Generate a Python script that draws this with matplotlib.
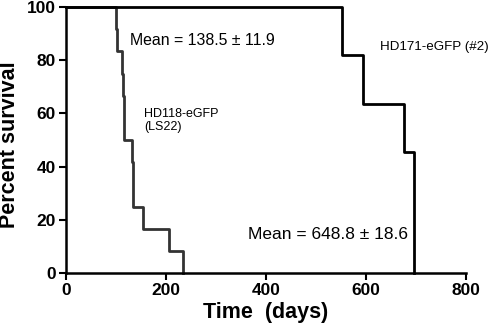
import numpy as np
import matplotlib
matplotlib.use("Agg")
import matplotlib.pyplot as plt

plt.rcParams['font.family'] = ['Liberation Sans', 'DejaVu Sans']

# HD118-eGFP (LS22): days of death and number of deaths, n = 12
hd118_days = [100, 103, 112, 115, 117, 132, 134, 155, 207, 235]
hd118_deaths = [1, 1, 1, 1, 2, 1, 2, 1, 1, 1]

# HD171-eGFP (#2): n = 11
hd171_days = [552, 595, 677, 697]
hd171_deaths = [2, 2, 2, 5]


def km_steps(days, deaths):
    n = sum(deaths)
    t = np.concatenate([[0], days])
    s = 100.0 * (1 - np.concatenate([[0], np.cumsum(deaths)]) / n)
    return t, s


fig = plt.figure(figsize=(4.93, 3.35), dpi=100)
ax = fig.add_axes([0.1333, 0.185, 0.812, 0.794])

t1, s1 = km_steps(hd118_days, hd118_deaths)
t2, s2 = km_steps(hd171_days, hd171_deaths)
ax.step(t1, s1, where='post', color='#333333', lw=2, clip_on=False)
ax.step(t2, s2, where='post', color='black', lw=2, clip_on=False)

ax.set_xlim(0, 800)
ax.set_ylim(0, 100)
ax.set_xticks([0, 200, 400, 600, 800])
ax.set_yticks([0, 20, 40, 60, 80, 100])
for sp in ['top', 'right']:
    ax.spines[sp].set_visible(False)
for sp in ['left', 'bottom']:
    ax.spines[sp].set_linewidth(1.8)
ax.tick_params(direction='out', length=5, width=1.5, labelsize=12.5, pad=2)
for lab in ax.get_xticklabels() + ax.get_yticklabels():
    lab.set_fontweight('bold')

ax.set_xlabel("Time  (days)", fontsize=15.5, fontweight='bold', labelpad=3)
fig.text(0.02, 1 - 145 / 335, "Percent survival", fontsize=15.5, fontweight='bold',
         rotation=90, ha='center', va='center')

ax.text(128, 87.6, "Mean = 138.5 \u00b1 11.9", fontsize=11.4, va='center', ha='left')
ax.text(156, 57.5, "HD118-eGFP\n(LS22)", fontsize=9, va='center', ha='left', linespacing=1.1)
ax.text(628, 85, "HD171-eGFP (#2)", fontsize=9.6, va='center', ha='left')
ax.text(365, 14.3, "Mean = 648.8 \u00b1 18.6", fontsize=12.5, va='center', ha='left')

fig.savefig("out.png", dpi=100)
